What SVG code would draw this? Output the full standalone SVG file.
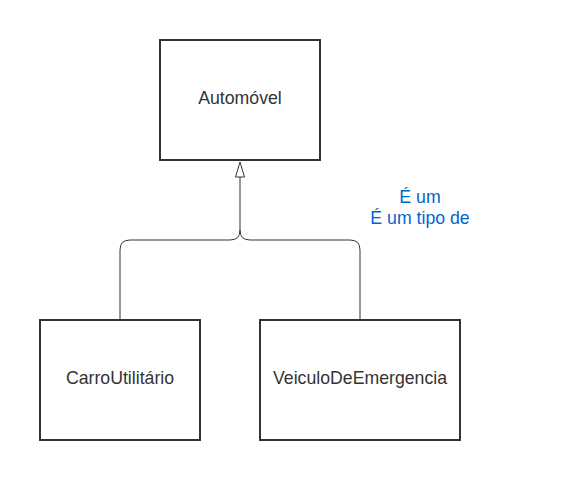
<svg xmlns="http://www.w3.org/2000/svg" width="580" height="481" viewBox="0 0 580 481">
<style>
.box{fill:#fff;stroke:#333;stroke-width:2}
.lbl{font-family:"Liberation Sans",Arial,sans-serif;font-size:17.7px;fill:#333;text-anchor:middle;dominant-baseline:central}
.edge{fill:none;stroke:#333;stroke-width:1}
.note{font-family:"Liberation Sans",Arial,sans-serif;font-size:17.7px;fill:#0066cc;text-anchor:middle}
</style>
<rect width="580" height="481" fill="#fff"/>
<g id="connectors">
<path class="edge" d="M120,320 V250 Q120,240 130,240 H230 Q240,240 240,230 V177"/>
<path class="edge" d="M360,320 V250 Q360,240 350,240 H250 Q240,240 240,230"/>
<path d="M240,162 L235.5,177 L244.5,177 Z" fill="#fff" stroke="#333" stroke-width="1"/>
</g>
<g id="automovel">
<rect class="box" x="160" y="40" width="160" height="120"/>
<text class="lbl" x="240" y="98">Automóvel</text>
</g>
<g id="carro">
<rect class="box" x="40" y="320" width="160" height="120"/>
<text class="lbl" x="120" y="378">CarroUtilitário</text>
</g>
<g id="veiculo">
<rect class="box" x="260" y="320" width="200" height="120"/>
<text class="lbl" x="360" y="378">VeiculoDeEmergencia</text>
</g>
<g id="note">
<text class="note" x="420" y="203">É um</text>
<text class="note" x="420" y="224">É um tipo de</text>
</g>
</svg>
